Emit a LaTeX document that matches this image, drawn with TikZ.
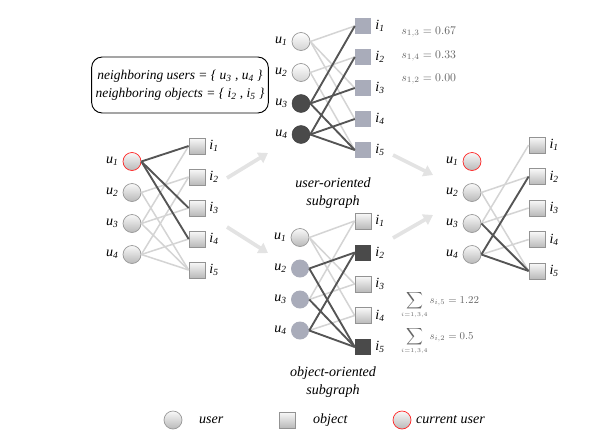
\documentclass[tikz,border=0pt]{standalone}
\usepackage{fontspec}
\setmainfont{Liberation Serif}
\usetikzlibrary{arrows.meta}

\definecolor{edgelight}{HTML}{D4D4D4}
\definecolor{edgedark}{HTML}{555555}
\definecolor{nodedark}{HTML}{4A4A4A}
\definecolor{bluegray}{HTML}{A9ACBA}

\newcommand{\uv}[1]{u\textsubscript{#1}}
\newcommand{\iv}[1]{i\textsubscript{#1}}

\tikzset{
  user/.style={circle, minimum size=0.54cm, inner sep=0pt, draw=gray!80, line width=0.6pt,
    top color=gray!5, bottom color=gray!55},
  curuser/.style={user, draw=red!85},
  userpale/.style={user, top color=white, bottom color=gray!35},
  userdark/.style={circle, minimum size=0.54cm, inner sep=0pt, draw=nodedark!80!black, fill=nodedark},
  userblue/.style={circle, minimum size=0.54cm, inner sep=0pt, fill=bluegray},
  object/.style={rectangle, minimum size=0.48cm, inner sep=0pt, draw=gray!85, line width=0.6pt,
    top color=gray!5, bottom color=gray!55},
  objblue/.style={rectangle, minimum size=0.48cm, inner sep=0pt, fill=bluegray},
  objdark/.style={rectangle, minimum size=0.48cm, inner sep=0pt, fill=nodedark},
  light/.style={draw=edgelight, line width=1.3pt},
  dark/.style={draw=edgedark, line width=1.6pt},
  flow/.style={draw=gray!22, line width=3.2pt, -{Triangle[length=8pt,width=10pt]}},
  score/.style={anchor=base west, inner sep=1pt, text=black!60, font=\fontsize{10}{11}\selectfont},
  sumscore/.style={score, inner sep=0pt, font=\fontsize{9}{10}\selectfont},
  infobox/.style={draw, rounded corners=9pt, line width=0.8pt, align=center,
    minimum width=5.1cm, minimum height=1.68cm, font=\fontsize{11.5}{15}\selectfont\itshape}
}

\begin{document}
\begin{tikzpicture}[x=0.03cm, y=-0.03cm, font=\fontsize{12}{16}\selectfont\itshape]
  \useasboundingbox (0,0) rectangle (594,442);

  % neighbours of the current user
  \node[infobox] (nb) at (180,85) {neighboring users = \{ \uv{3} , \uv{4} \}\\neighboring objects = \{ \iv{2} , \iv{5} \}};

  % original graph
  \begin{scope}[shift={(132,208)}]
    \foreach \k/\s in {1/curuser,2/user,3/user,4/user}
      \node[\s, label={left:\uv{\k}}] (lu\k) at (0,{(\k-2.5)*31}) {};
    \foreach \k in {1,...,5}
      \node[object, label={right:\iv{\k}}] (li\k) at (65,{(\k-3)*31}) {};
    \foreach \a/\b in {2/2,2/5,3/1,3/3,3/5,4/2,4/4,4/5}
      \draw[light] (lu\a.east) -- (li\b.west);
    \foreach \a/\b in {1/1,1/3,1/4}
      \draw[dark] (lu\a.east) -- (li\b.west);
  \end{scope}

  % user-oriented subgraph
  \begin{scope}[shift={(301,88)}]
    \foreach \k/\s in {1/userpale,2/userpale,3/userdark,4/userdark}
      \node[\s, label={left:\uv{\k}}] (tu\k) at (0,{(\k-2.5)*31}) {};
    \foreach \k in {1,...,5}
      \node[objblue, label={right:\iv{\k}}] (ti\k) at (62,{(\k-3)*31}) {};
    \foreach \a/\b in {1/1,1/3,1/4,2/2,2/5}
      \draw[light] (tu\a.east) -- (ti\b.west);
    \foreach \a/\b in {3/1,3/3,3/5,4/2,4/4,4/5}
      \draw[dark] (tu\a.east) -- (ti\b.west);
  \end{scope}
  \node[score] (s13) at (400,34) {$s_{1,3} = 0.67$};
  \node[score] (s14) at (400,58) {$s_{1,4} = 0.33$};
  \node[score] (s12) at (400,81) {$s_{1,2} = 0.00$};
  \node[align=center] (uos) at (333,193) {user-oriented\\subgraph};

  % object-oriented subgraph
  \begin{scope}[shift={(300,284)}]
    \foreach \k/\s in {1/user,2/userblue,3/userblue,4/userblue}
      \node[\s, label={left:\uv{\k}}] (bu\k) at (0,{(\k-2.5)*31}) {};
    \foreach \k/\s in {1/object,2/objdark,3/object,4/object,5/objdark}
      \node[\s, label={right:\iv{\k}}] (bi\k) at (63,{(\k-3)*31.5}) {};
    \foreach \a/\b in {1/1,1/3,1/4,3/1,3/3,4/4}
      \draw[light] (bu\a.east) -- (bi\b.west);
    \foreach \a/\b in {2/2,2/5,3/5,4/2,4/5}
      \draw[dark] (bu\a.east) -- (bi\b.west);
  \end{scope}
  \node[sumscore] (sum5) at (401,303) {$\displaystyle\sum_{\scriptscriptstyle i=1,3,4} s_{i,5} = 1.22$};
  \node[sumscore] (sum2) at (401,339) {$\displaystyle\sum_{\scriptscriptstyle i=1,3,4} s_{i,2} = 0.5$};
  \node[align=center] (oos) at (333,382) {object-oriented\\subgraph};

  % result graph
  \begin{scope}[shift={(472,208)}]
    \foreach \k/\s in {1/curuser,2/user,3/user,4/user}
      \node[\s, label={left:\uv{\k}}] (ru\k) at (0,{(\k-2.5)*31}) {};
    \foreach \k in {1,...,5}
      \node[object, label={right:\iv{\k}}] (ri\k) at (65,{(\k-3)*31.5}) {};
    \foreach \a/\b in {2/2,2/5,3/1,3/3,4/4}
      \draw[light] (ru\a.east) -- (ri\b.west);
    \foreach \a/\b in {3/5,4/2,4/5}
      \draw[dark] (ru\a.east) -- (ri\b.west);
  \end{scope}

  % flow arrows
  \coordinate (f1s) at (227,178); \coordinate (f1e) at (268,153);
  \coordinate (f2s) at (227,227); \coordinate (f2e) at (268,253);
  \coordinate (f3s) at (393,155); \coordinate (f3e) at (433,175);
  \coordinate (f4s) at (393,238); \coordinate (f4e) at (433,215);
  \foreach \f in {1,...,4}
    \draw[flow] (f\f s) -- (f\f e);

  % legend
  \node[user] (lgu) at (173,420) {};
  \node[anchor=west] (lgut) at (195,420) {user};
  \node[object] (lgo) at (287,420) {};
  \node[anchor=west] (lgot) at (309,420) {object};
  \node[curuser] (lgc) at (402,420) {};
  \node[anchor=west] (lgct) at (412,420) {current user};
\end{tikzpicture}
\end{document}
